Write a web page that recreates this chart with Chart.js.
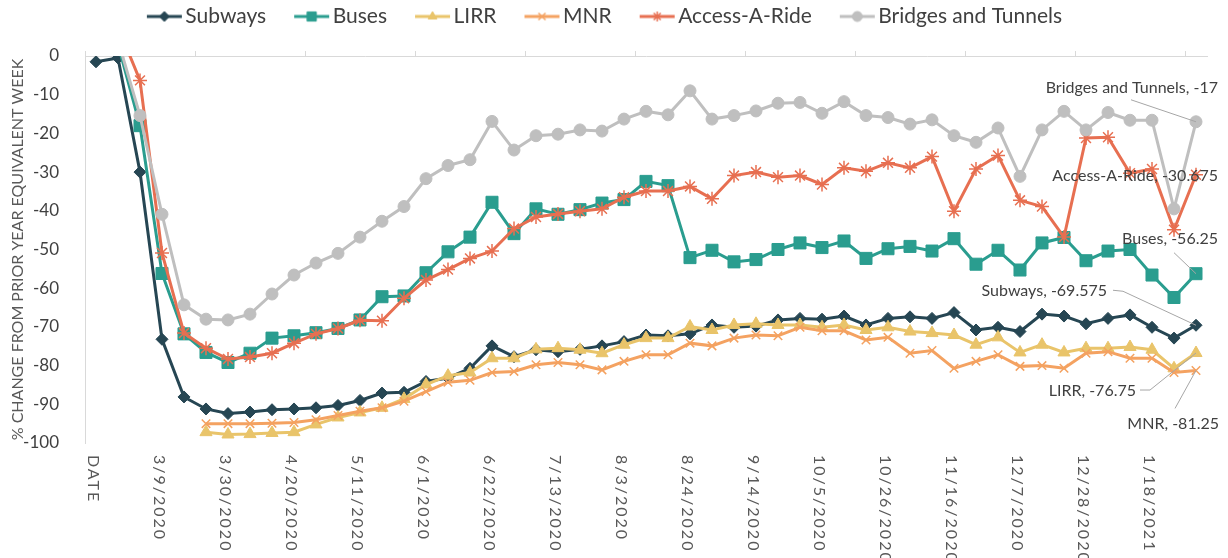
<!DOCTYPE html>
<html>
<head>
<meta charset="utf-8">
<title>MTA ridership change</title>
<script src="https://cdn.jsdelivr.net/npm/chart.js@4.4.1/dist/chart.umd.min.js"></script>
<style>
  html, body { margin: 0; padding: 0; background: #fff; }
</style>
</head>
<body>
<canvas id="ridershipChart" width="1228" height="558"></canvas>
<script>
const weeks = [
    'DATE', '2/24/2020', '3/2/2020', '3/9/2020', '3/16/2020', '3/23/2020', '3/30/2020',
    '4/6/2020', '4/13/2020', '4/20/2020', '4/27/2020', '5/4/2020', '5/11/2020', '5/18/2020',
    '5/25/2020', '6/1/2020', '6/8/2020', '6/15/2020', '6/22/2020', '6/29/2020', '7/6/2020',
    '7/13/2020', '7/20/2020', '7/27/2020', '8/3/2020', '8/10/2020', '8/17/2020', '8/24/2020',
    '8/31/2020', '9/7/2020', '9/14/2020', '9/21/2020', '9/28/2020', '10/5/2020', '10/12/2020',
    '10/19/2020', '10/26/2020', '11/2/2020', '11/9/2020', '11/16/2020', '11/23/2020',
    '11/30/2020', '12/7/2020', '12/14/2020', '12/21/2020', '12/28/2020', '1/4/2021',
    '1/11/2021', '1/18/2021', '1/25/2021', '2/1/2021'
];

const subways = [
    -1.5, -0.5, -30, -73.2, -88.1, -91.2, -92.4, -92, -91.4, -91.2,
    -90.9, -90.3, -89.0, -87.1, -86.9, -84.1, -83.2, -80.7, -74.9, -77.7,
    -75.9, -76.4, -75.8, -74.9, -73.8, -72.1, -72.3, -71.8, -69.5, -70.1,
    -69.8, -68.2, -67.8, -68.0, -67.2, -69.5, -67.8, -67.4, -67.8, -66.3,
    -70.8, -70.1, -71.2, -66.7, -67.2, -69.2, -67.8, -66.9, -70.1, -72.9, -69.575
];
const buses = [
    null, 3, -18, -56.2, -71.8, -76.6, -79.2, -76.8, -72.9, -72.3,
    -71.5, -70.4, -68.2, -62.2, -62.0, -56.0, -50.6, -46.8, -37.8, -45.9,
    -39.5, -40.9, -39.7, -38.0, -37.1, -32.4, -33.5, -52.1, -50.2, -53.2,
    -52.6, -50.0, -48.3, -49.5, -47.8, -52.3, -49.8, -49.2, -50.4, -47.2,
    -53.8, -50.2, -55.3, -48.3, -46.9, -52.9, -50.4, -50.0, -56.6, -62.4, -56.25
];
const lirr = [
    null, null, null, null, null, -97.2, -97.8, -97.7, -97.4, -97.2,
    -95.2, -93.4, -92.1, -90.9, -88.6, -84.9, -82.6, -81.8, -78.1, -78.1,
    -75.8, -75.5, -75.9, -76.8, -74.6, -72.9, -72.9, -69.9, -70.8, -69.5,
    -69.2, -69.5, -69.5, -70.1, -69.5, -70.8, -70.1, -71.2, -71.6, -72.1,
    -74.6, -72.7, -76.6, -74.6, -76.6, -75.5, -75.5, -75.2, -75.9, -80.7, -76.75
];
const mnr = [
    null, null, null, null, null, -95, -95, -95, -94.9, -94.7,
    -94.0, -92.9, -91.8, -90.9, -89.2, -86.7, -84.3, -83.8, -81.8, -81.5,
    -79.8, -79.2, -79.8, -81.1, -78.9, -77.2, -77.2, -74.2, -74.9, -72.9,
    -72.1, -72.3, -70.1, -71.0, -71.0, -73.4, -72.7, -76.8, -76.1, -80.7,
    -78.9, -77.2, -80.2, -80.0, -80.7, -76.8, -76.4, -78.1, -78.1, -81.8, -81.25
];
const accessARide = [
    null, 7.5, -6.3, -50.9, -71.6, -75.5, -78.3, -77.8, -76.8, -74.2,
    -71.8, -70.4, -68.3, -68.4, -62.6, -57.9, -55.2, -52.3, -50.4, -44.6,
    -41.6, -40.8, -40.1, -39.5, -36.5, -34.9, -34.9, -33.7, -36.9, -30.9,
    -30.0, -31.3, -30.9, -33.2, -28.9, -29.8, -27.6, -28.9, -26.0, -40.1,
    -29.2, -25.7, -37.3, -38.9, -46.8, -21.2, -21.0, -30.3, -29.2, -44.9, -30.675
];
const bridgesTunnels = [
    null, 4, -15.4, -40.9, -64.3, -68.0, -68.2, -66.7, -61.5, -56.6,
    -53.5, -51.0, -46.8, -42.7, -38.9, -31.7, -28.3, -26.8, -16.9, -24.3,
    -20.6, -20.2, -19.1, -19.4, -16.3, -14.3, -15.2, -9.0, -16.3, -15.4,
    -14.2, -12.2, -12.0, -14.8, -11.8, -15.4, -15.9, -17.6, -16.5, -20.6,
    -22.3, -18.6, -31.1, -19.1, -14.3, -19.1, -14.6, -16.6, -16.6, -39.5, -17
];

const yTicks = [0, -10, -20, -30, -40, -50, -60, -70, -80, -90, -100];

const seriesNames = ['Subways', 'Buses', 'LIRR', 'MNR', 'Access-A-Ride', 'Bridges and Tunnels'];
const seriesData = [subways, buses, lirr, mnr, accessARide, bridgesTunnels];
const seriesColors = ['#264653', '#2a9d8f', '#e9c46a', '#f4a261', '#e76f51', '#bfbfbf'];
const markerStyles = ['rectRot', 'rect', 'triangle', 'crossRot', 'star', 'circle'];
const markerSizes = [6, 8.5, 7, 6, 7, 6];

// where each end label sits, relative to the last point (right edge x, middle y)
// plus the leader line path back to the point
const endLabels = [
    { dx: -89, dy: -34, leader: [[-83, -35], [-73, -34]] },
    { dx: 22, dy: -35, leader: [[-22, -21]] },
    { dx: -60, dy: 38, leader: [[-56, 37], [-46, 37]] },
    { dx: 23, dy: 53, leader: [[-21, 38]] },
    { dx: 22, dy: 1, leader: null },
    { dx: 22, dy: -34, leader: [[-65, -22]] }
];

const FONT = 'Lato, "Open Sans", sans-serif';
Chart.defaults.font.family = FONT;

function legendSwatch(color, style, idx) {
    const c = document.createElement('canvas');
    c.width = 66;
    c.height = 16;
    const g = c.getContext('2d');
    g.strokeStyle = color;
    g.fillStyle = color;
    g.lineWidth = 3;
    g.beginPath();
    g.moveTo(30, 8);
    g.lineTo(65, 8);
    g.stroke();
    const thin = style === 'crossRot' || style === 'star';
    g.lineWidth = thin ? 1.5 : 1;
    Chart.helpers.drawPoint(g, { pointStyle: style, radius: idx === 1 ? 6.5 : 5, borderWidth: g.lineWidth, rotation: 0 }, 47.5, 8);
    return c;
}
const swatches = seriesColors.map((c, i) => legendSwatch(c, markerStyles[i], i));

// legend sits a bit left of centre in the original
const legendNudge = {
    id: 'legendNudge',
    afterLayout(chart) {
        if (chart.legend) chart.legend.left -= 20;
    }
};

const rotatedDates = {
    id: 'rotatedDates',
    afterDraw(chart) {
        const xs = chart.scales.x;
        const ctx = chart.ctx;
        ctx.save();
        ctx.font = '16px ' + FONT;
        ctx.fillStyle = '#595959';
        ctx.letterSpacing = '2px';
        ctx.textAlign = 'left';
        ctx.textBaseline = 'middle';
        weeks.forEach((w, i) => {
            if (i % 3 !== 0) return;
            ctx.save();
            ctx.translate(xs.getPixelForValue(i) - 3, xs.top + 12);
            ctx.rotate(Math.PI / 2);
            ctx.fillText(w, 0, 0);
            ctx.restore();
        });
        ctx.restore();
    }
};

const lastValueLabels = {
    id: 'lastValueLabels',
    afterDatasetsDraw(chart) {
        const ctx = chart.ctx;
        ctx.save();
        ctx.font = '16px ' + FONT;
        ctx.textBaseline = 'middle';
        ctx.textAlign = 'right';
        chart.data.datasets.forEach((ds, i) => {
            const meta = chart.getDatasetMeta(i);
            const last = ds.data.length - 1;
            const pt = meta.data[last];
            const lab = endLabels[i];
            if (lab.leader) {
                ctx.strokeStyle = '#a6a6a6';
                ctx.lineWidth = 1;
                ctx.beginPath();
                lab.leader.forEach((p, k) => {
                    if (k === 0) ctx.moveTo(pt.x + p[0], pt.y + p[1]);
                    else ctx.lineTo(pt.x + p[0], pt.y + p[1]);
                });
                ctx.lineTo(pt.x, pt.y);
                ctx.stroke();
            }
            ctx.fillStyle = '#404040';
            ctx.fillText(ds.label + ', ' + ds.data[last], pt.x + lab.dx, pt.y + lab.dy);
        });
        ctx.restore();
    }
};

new Chart(document.getElementById('ridershipChart'), {
    type: 'line',
    data: {
        labels: weeks,
        datasets: seriesNames.map((name, i) => ({
            label: name,
            data: seriesData[i],
            borderColor: seriesColors[i],
            backgroundColor: seriesColors[i],
            borderWidth: 3,
            pointStyle: markerStyles[i],
            pointRadius: markerSizes[i],
            pointBorderWidth: (markerStyles[i] === 'crossRot' || markerStyles[i] === 'star') ? 1.5 : 1,
            pointBackgroundColor: seriesColors[i],
            pointBorderColor: seriesColors[i],
            tension: 0,
            order: seriesNames.length - i
        }))
    },
    options: {
        responsive: false,
        devicePixelRatio: 1,
        animation: false,
        layout: { padding: { left: 0, right: 21, top: 0, bottom: 0 } },
        plugins: {
            tooltip: { enabled: false },
            legend: {
                position: 'top',
                labels: {
                    usePointStyle: true,
                    pointStyleWidth: 50,
                    padding: 6,
                    color: '#404040',
                    font: { size: 21, family: FONT },
                    sort: (a, b) => a.datasetIndex - b.datasetIndex,
                    generateLabels(chart) {
                        const items = Chart.defaults.plugins.legend.labels.generateLabels(chart);
                        items.forEach(it => { it.pointStyle = swatches[it.datasetIndex]; });
                        return items;
                    }
                }
            }
        },
        scales: {
            x: {
                type: 'category',
                offset: true,
                grid: { display: false },
                border: { display: false },
                ticks: { display: false },
                afterFit: s => { s.height = 115; }
            },
            xTop: {
                type: 'category',
                position: 'top',
                labels: weeks,
                offset: true,
                ticks: { display: false },
                grid: {
                    offset: true,
                    drawOnChartArea: false,
                    tickLength: 5,
                    color: c => (c.index % 5 === 0 ? '#d9d9d9' : 'rgba(0,0,0,0)')
                },
                border: { display: true, color: '#d9d9d9', width: 1 },
                afterFit: s => { s.height = 19; }
            },
            y: {
                min: -100,
                max: 0,
                afterBuildTicks: s => { s.ticks = yTicks.map(v => ({ value: v })); },
                ticks: { color: '#404040', font: { size: 17, family: FONT }, padding: 18 },
                grid: { display: false },
                border: { display: true, color: '#d9d9d9', width: 1 },
                title: {
                    display: true,
                    text: '% CHANGE FROM PRIOR YEAR EQUIVALENT WEEK',
                    color: '#595959',
                    font: { size: 16, family: FONT },
                    padding: { top: 8, bottom: 0 }
                },
                afterFit: s => { s.width = 85; }
            }
        }
    },
    plugins: [legendNudge, rotatedDates, lastValueLabels]
});
</script>
</body>
</html>
